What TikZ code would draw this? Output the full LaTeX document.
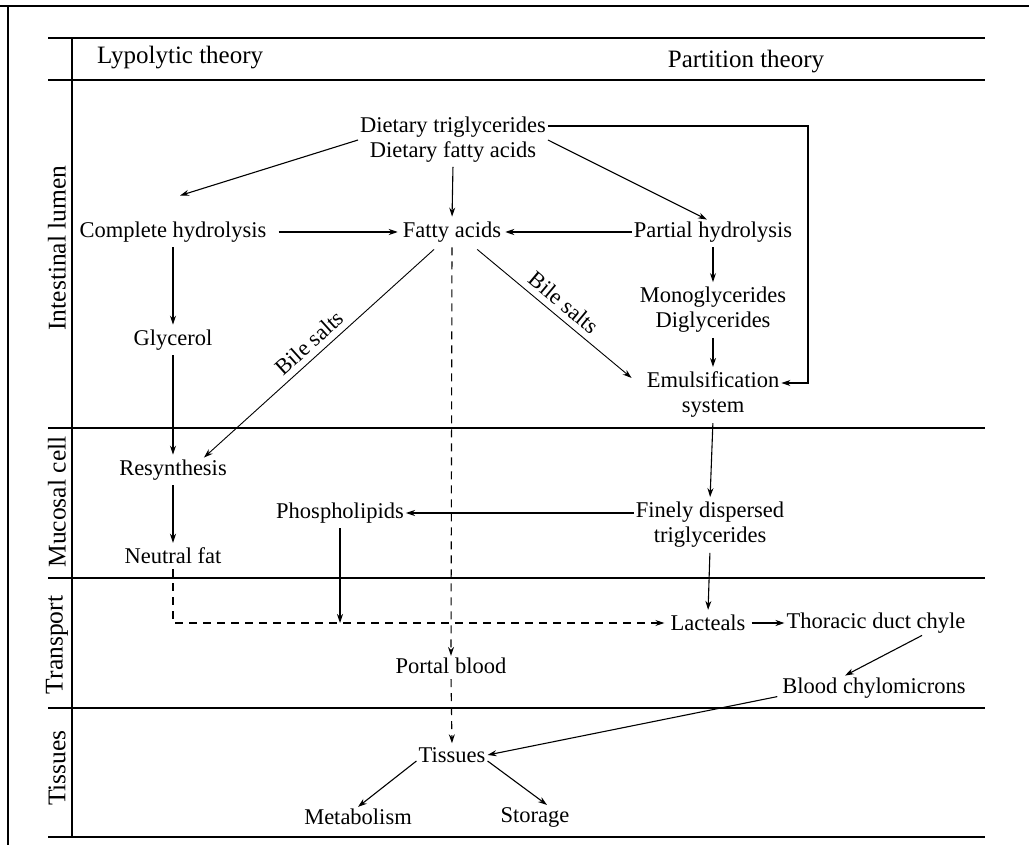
\documentclass[tikz,border=0pt]{standalone}
\usepackage{fontspec}
\setmainfont{Liberation Serif}
\usetikzlibrary{arrows.meta}
\begin{document}
\begin{tikzpicture}[x=1pt,y=-1pt,
  lbl/.style={font=\fontsize{22.5}{25}\selectfont, inner sep=2pt, align=center},
  hdr/.style={font=\fontsize{25}{30}\selectfont, inner sep=0pt},
  rowlbl/.style={font=\fontsize{25.5}{30}\selectfont, rotate=90, inner sep=0pt},
  rule/.style={line width=1.5pt},
  flow/.style={line width=1.1pt, -{Stealth[length=9pt,width=6pt]}},
  thinflow/.style={flow, line width=0.9pt},
  dashflow/.style={flow, dash pattern=on 8pt off 6pt},
  saltlbl/.style={lbl, inner sep=1pt}
]
\useasboundingbox (0,0) rectangle (1029,845);

% frame and table rules
\draw[rule] (0,6) -- (1029,6);
\draw[rule] (8,6) -- (8,845);
\draw[rule] (48,38) -- (985,38);
\draw[rule] (48,80) -- (985,80);
\draw[rule] (72,38) -- (72,838);
\draw[rule] (48,428) -- (985,428);
\draw[rule] (48,578) -- (985,578);
\draw[rule] (48,708) -- (985,708);
\draw[rule] (48,837) -- (985,837);

% column headers
\node[hdr, anchor=west] (hleft) at (97,58) {Lypolytic theory};
\node[hdr] (hright) at (746,62) {Partition theory};

% row labels
\node[rowlbl] (rlumen) at (57,248) {Intestinal lumen};
\node[rowlbl] (rmucosa) at (57,502) {Mucosal cell};
\node[rowlbl] (rtrans) at (57,645) {Transport};
\node[rowlbl] (rtiss) at (57,768) {Tissues};

% nodes
\node[lbl] (diet) at (453,140) {Dietary triglycerides\\Dietary fatty acids};
\node[lbl] (comp) at (173,232) {Complete hydrolysis};
\node[lbl] (fa) at (452,232) {Fatty acids};
\node[lbl] (part) at (713,232) {Partial hydrolysis};
\node[lbl] (glyc) at (173,340) {Glycerol};
\node[lbl] (mono) at (713,310) {Monoglycerides\\Diglycerides};
\node[lbl] (emul) at (713,395) {Emulsification\\system};
\node[lbl] (resyn) at (173,470) {Resynthesis};
\node[lbl] (neut) at (173,556) {Neutral fat};
\node[lbl] (phos) at (340,513) {Phospholipids};
\node[lbl] (fine) at (710,525) {Finely dispersed\\triglycerides};
\node[lbl] (lact) at (708,623) {Lacteals};
\node[lbl] (thor) at (876,623) {Thoracic duct chyle};
\node[lbl] (portal) at (451,666) {Portal blood};
\node[lbl] (bloodc) at (874,688) {Blood chylomicrons};
\node[lbl] (tiss) at (452,755) {Tissues};
\node[lbl] (metab) at (358,817) {Metabolism};
\node[lbl] (stor) at (535,817) {Storage};

% intestinal lumen
\draw[flow] (diet.west) -- ([shift={(7,-24)}]comp.north);
\draw[flow, shorten <=2pt, shorten >=3pt] (diet.south) -- (fa.north);
\draw[flow] (diet.east) -- ([xshift=-6pt]part.north);
\draw[flow] ([yshift=14pt]diet.east) -- ++(260,0) |- ([yshift=12pt]emul.east);
\draw[flow, shorten >=2pt] (part.west) -- (fa.east);
\draw[flow, shorten <=10pt, shorten >=3pt] (comp.east) -- (fa.west);
\draw[thinflow] ([shift={(-26,5)}]fa.south east) -- ([shift={(-13,8)}]emul.north west)
  node[midway, above=5pt, sloped, saltlbl] {Bile salts};
\draw[thinflow] ([shift={(-18,5)}]fa.south) -- ([shift={(-25,0)}]resyn.north east)
  node[midway, above=5pt, sloped, saltlbl] {Bile salts};
\draw[flow, shorten <=3pt, shorten >=3pt] (part.south) -- (mono.north);
\draw[flow, shorten <=3pt, shorten >=3pt] (mono.south) -- (emul.north);
\draw[flow, shorten <=3pt, shorten >=3pt] (comp.south) -- (glyc.north);
\draw[flow, shorten <=3pt, shorten >=3pt] (glyc.south) -- (resyn.north);

% mucosal cell
\draw[flow, shorten <=3pt, shorten >=3pt] (resyn.south) -- (neut.north);
\draw[flow, shorten <=3pt, shorten >=3pt] (emul.south) -- (fine.north);
\draw[flow] (fine.west |- phos.east) -- (phos.east);

% transport
\draw[dashflow, shorten <=3pt] (fa.south) -- (portal.north);
\draw[dashflow, shorten <=3pt, shorten >=2pt] (portal.south) -- (tiss.north);
\draw[dashflow, shorten <=3pt, shorten >=4pt] (neut.south) |- (lact.west);
\draw[flow, shorten <=3pt] (phos.south) -- (phos.south |- lact.west);
\draw[flow, shorten <=3pt, shorten >=3pt] (fine.south) -- (lact.north);
\draw[flow, shorten <=4pt] (lact.east) -- (thor.west);
\draw[flow] ([xshift=46pt]thor.south) -- ([xshift=-29pt]bloodc.north);
\draw[flow, shorten <=3pt] ([yshift=-8pt]bloodc.west) -- (tiss.east);

% tissues
\draw[flow] ([yshift=-6pt]tiss.west) -- (metab.north);
\draw[flow] ([yshift=-6pt]tiss.east) -- ([xshift=12pt]stor.north);
\end{tikzpicture}
\end{document}
